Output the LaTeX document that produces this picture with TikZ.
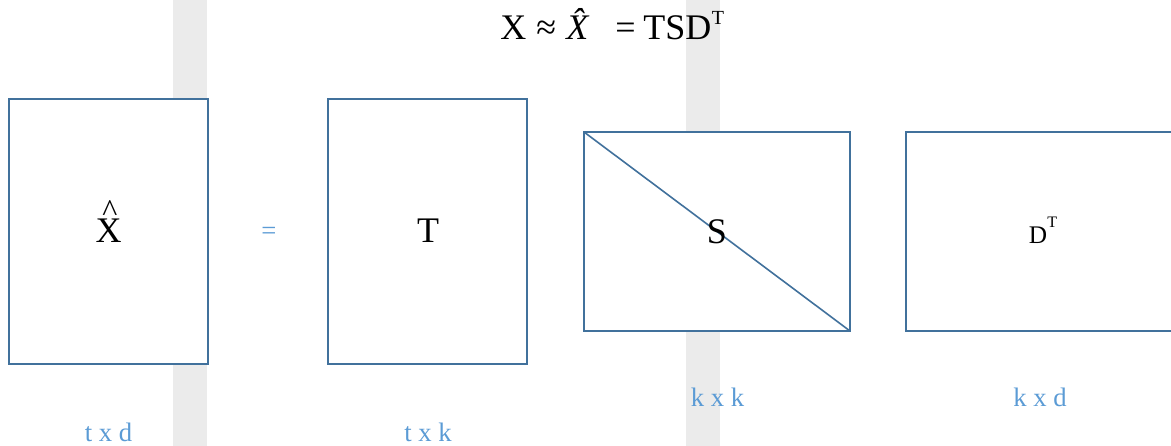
\documentclass[tikz,border=0pt]{standalone}
\usepackage{fontspec}
\setmainfont{Liberation Serif}
\definecolor{boxc}{HTML}{41719C}
\definecolor{labc}{HTML}{5B9BD5}
\definecolor{stripc}{HTML}{EBEBEB}
\newcommand{\supT}[2]{\raisebox{#2}{\fontsize{#1}{#1}\selectfont T}}
\begin{document}
\begin{tikzpicture}[x=0.75pt,y=-0.75pt,
  box/.style={draw=boxc, line width=1.2pt, fill=white, inner sep=0, outer sep=0},
  lab/.style={text=labc, font=\fontsize{20}{22}\selectfont, inner sep=0},
  big/.style={font=\fontsize{27}{30}\selectfont, inner sep=0},
  mid/.style={font=\fontsize{19}{21}\selectfont, inner sep=0}]
\useasboundingbox (0,0) rectangle (1171,446);
\fill[stripc] (173,0) rectangle (207,446);
\fill[stripc] (686,0) rectangle (720,446);
% formula
\node[big, anchor=base west] (f1) at (500,39) {X};
\node[big, anchor=base west] (f2) at (536,39) {≈};
\node[big, anchor=base west] (f3) at (566,39) {\textit{X̂}};
\node[big, anchor=base west] (f4) at (615,39) {=};
\node[big, anchor=base west] (f5) at (643,39) {TSD\kern0.5pt\supT{15pt}{11pt}};
% boxes
\node[box, minimum width=149.25pt, minimum height=198.75pt] (X) at (108.5,231.5) {};
\node[box, minimum width=149.25pt, minimum height=198.75pt] (T) at (427.5,231.5) {};
\node[box, minimum width=199.5pt, minimum height=149.25pt] (S) at (717,231.5) {};
\node[box, minimum width=199.5pt, minimum height=149.25pt] (D) at (1039,231.5) {};
\draw[draw=boxc, line width=1.2pt] (S.north west) -- (S.south east);
% contents
\node[big] (xl) at (108.5,231) {X};
\node[font=\fontsize{24}{26}\selectfont, inner sep=0, anchor=base] (xh) at (110,221) {\textasciicircum};
\node[big] (tl) at (428,231) {T};
\node[big] (sl) at (717,232) {S};
\node[mid, anchor=base] (dl) at (1043,243) {D\kern0.3pt\supT{12pt}{12pt}};
\node[lab] (eq) at (269,233.5) {=};
% dimension labels
\node[lab, anchor=base] (l1) at (108.5,441) {t x d};
\node[lab, anchor=base] (l2) at (428,441) {t x k};
\node[lab, anchor=base] (l3) at (717.5,406) {k x k};
\node[lab, anchor=base] (l4) at (1040,406) {k x d};
\end{tikzpicture}
\end{document}
